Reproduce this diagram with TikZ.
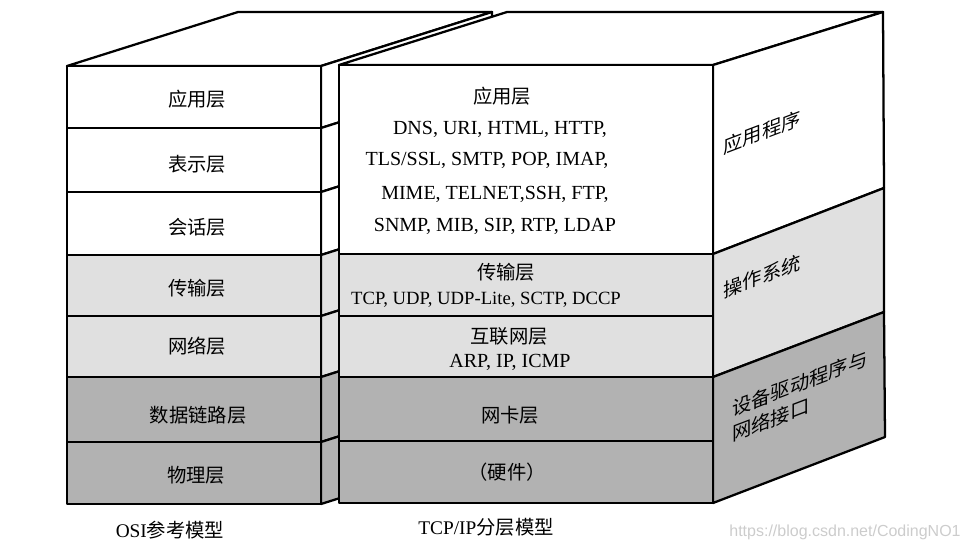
\documentclass[tikz,border=0pt]{standalone}
\usepackage{fontspec}
\setmainfont{Liberation Serif}
\newfontfamily\cjk{Noto Sans CJK SC}
\newfontfamily\wmfont{Liberation Sans}
\definecolor{lgray}{gray}{0.88}
\definecolor{dgray}{gray}{0.70}
\begin{document}
\begin{tikzpicture}[x=0.75pt,y=-0.75pt,
  edge/.style={draw=black,line width=1.7pt,line join=round},
  lbl/.style={font=\cjk\fontsize{14.5}{17}\selectfont, inner sep=0pt},
  proto/.style={font=\fontsize{15}{17}\selectfont, inner sep=0pt},
  sidetxt/.style={font=\cjk\fontsize{14.5}{19}\selectfont, inner sep=0pt, yslant=0.38, align=left},
  caption/.style={font=\fontsize{14.5}{17}\selectfont, inner sep=0pt}]
\useasboundingbox (0,0) rectangle (967,551);

% ---------- OSI block ----------
\draw[edge,fill=white] (67,66) -- (238,12) -- (492,12) -- (321,66) -- cycle;
\foreach \t/\b/\f in {66/128/white,128/192/white,192/255/white,255/316/lgray,316/377/lgray,377/442/dgray,442/504/dgray}{
  \draw[edge,fill=\f] (321,\t) -- ++(171,-54) -- ++(0,\b-\t) -- (321,\b) -- cycle;
  \draw[edge,fill=\f] (67,\t) rectangle (321,\b);
}

% ---------- TCP/IP block ----------
\draw[edge,fill=white] (339,65) -- (507,12) -- (883,12) -- (713,65) -- cycle;
\draw[edge,fill=white] (713,65) -- (883,12) -- (884,188) -- (713,254) -- cycle;
\draw[edge,fill=lgray] (713,254) -- (884,188) -- (884,312) -- (713,377) -- cycle;
\draw[edge,fill=dgray] (713,377) -- (884,312) -- (885,437) -- (713,503) -- cycle;
\foreach \t/\b/\f in {65/254/white,254/316/lgray,316/377/lgray,377/441/dgray,441/503/dgray}{
  \draw[edge,fill=\f] (339,\t) rectangle (713,\b);
}

% ---------- OSI labels ----------
\node[lbl] (o7) at (197,99) {应用层};
\node[lbl] (o6) at (197,164) {表示层};
\node[lbl] (o5) at (197,227) {会话层};
\node[lbl] (o4) at (197,288) {传输层};
\node[lbl] (o3) at (197,346) {网络层};
\node[lbl] (o2) at (198,415) {数据链路层};
\node[lbl] (o1) at (196,475) {物理层};

% ---------- TCP/IP labels ----------
\node[lbl] (t4) at (502,96) {应用层};
\node[proto] (p1) at (500,129) {DNS, URI, HTML, HTTP,};
\node[proto] (p2) at (487,160) {TLS/SSL, SMTP, POP, IMAP,};
\node[proto] (p3) at (495,194) {MIME, TELNET,SSH, FTP,};
\node[proto] (p4) at (495,226) {SNMP, MIB, SIP, RTP, LDAP};
\node[lbl] (t3) at (506,272) {传输层};
\node[proto,font=\fontsize{14}{16}\selectfont] (p5) at (486,300) {TCP, UDP, UDP-Lite, SCTP, DCCP};
\node[lbl] (t2) at (509,336) {互联网层};
\node[proto] (p6) at (510,362) {ARP, IP, ICMP};
\node[lbl] (t1) at (510,415) {网卡层};
\node[lbl] (t0) at (507,472) {（硬件）};

% ---------- side face labels ----------
\node[sidetxt] (s1) at (762,132) {应用程序};
\node[sidetxt] (s2) at (762,276) {操作系统};
\node[sidetxt,anchor=west] (s3) at (732,422) {设备驱动程序与\\网络接口};

% ---------- captions ----------
\node[caption] (c1) at (170,530) {OSI{\cjk 参考模型}};
\node[caption] (c2) at (486,527) {TCP/IP{\cjk 分层模型}};
\node[font=\wmfont\fontsize{12}{14}\selectfont, text=gray!40, inner sep=0pt] (wm) at (845,532) {https://blog.csdn.net/CodingNO1};
\end{tikzpicture}
\end{document}
